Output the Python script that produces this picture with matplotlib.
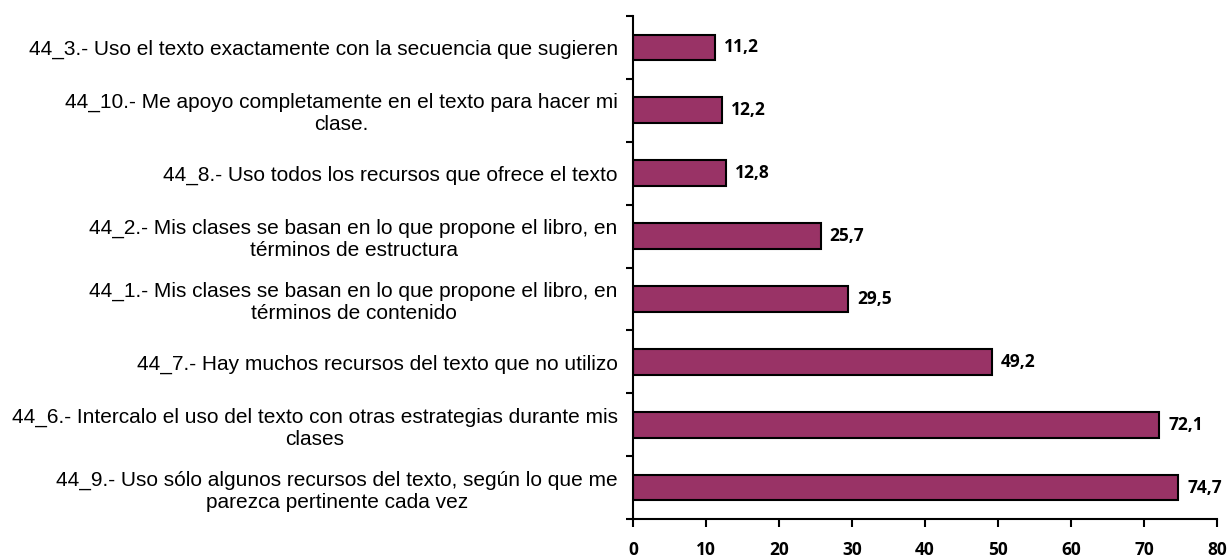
import matplotlib.pyplot as plt
import numpy as np

# datos (de arriba hacia abajo)
labels = [
    "44_3.- Uso el texto exactamente con la secuencia que sugieren",
    "44_10.- Me apoyo completamente en el texto para hacer mi\nclase.",
    "44_8.- Uso todos los recursos que ofrece el texto",
    "44_2.- Mis clases se basan en lo que propone el libro, en\ntérminos de estructura",
    "44_1.- Mis clases se basan en lo que propone el libro, en\ntérminos de contenido",
    "44_7.- Hay muchos recursos del texto que no utilizo",
    "44_6.- Intercalo el uso del texto con otras estrategias durante mis\nclases",
    "44_9.- Uso sólo algunos recursos del texto, según lo que me\nparezca pertinente cada vez",
]
values = [11.2, 12.2, 12.8, 25.7, 29.5, 49.2, 72.1, 74.7]
xticks = [0, 10, 20, 30, 40, 50, 60, 70, 80]

fig = plt.figure(figsize=(12.3, 5.58), dpi=100)
ax = fig.add_axes([0.5146, 0.0699, 0.4748, 0.9014])

y = np.arange(len(labels))
bars = ax.barh(y, values, height=0.41, color='#993366', edgecolor='black', linewidth=1.5)

for b, v in zip(bars, values):
    ax.text(b.get_width() + 1.2, b.get_y() + b.get_height() / 2,
            ('%.1f' % v).replace('.', ','), va='center', ha='left',
            fontsize=12.5, fontweight='bold', family='Open Sans')

ax.set_ylim(len(labels) - 0.5, -0.5)
ax.set_xlim(0, 80)

# etiquetas en el centro, marcas en los limites
ax.set_yticks(y)
ax.set_yticklabels(labels, fontsize=15, family='Liberation Sans',
                   multialignment='center', linespacing=1.2)
ax.tick_params(axis='y', which='major', length=0, pad=11)
ax.set_yticks(np.arange(-0.5, len(labels), 1), minor=True)
ax.tick_params(axis='y', which='minor', length=5, width=1.5, direction='out')

ax.set_xticks(xticks)
ax.set_xticklabels([str(t) for t in xticks], fontsize=12.5, fontweight='bold', family='Open Sans')
ax.tick_params(axis='x', length=6, width=1.5, direction='out', pad=10)

for s in ['top', 'right']:
    ax.spines[s].set_visible(False)
for s in ['left', 'bottom']:
    ax.spines[s].set_linewidth(1.5)

fig.savefig('out.png', dpi=100)
